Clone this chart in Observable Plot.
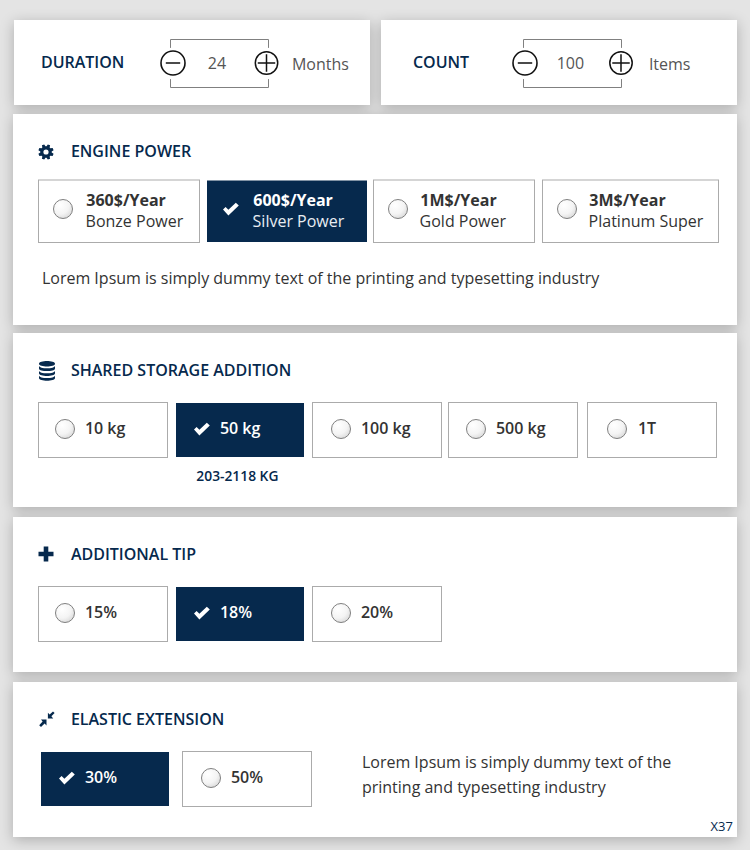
<!DOCTYPE html>
<html>
<head>
<meta charset="utf-8">
<script src="https://cdn.jsdelivr.net/npm/d3@7"></script>
<script src="https://cdn.jsdelivr.net/npm/@observablehq/plot@0.6"></script>
<style>html,body{margin:0;padding:0;background:#e4e4e4;}svg{display:block;}</style>
</head>
<body>
<script>
// ---- content ----
const stepperLabels = ["DURATION", "COUNT"];
const stepperValues = ["24", "100"];
const stepperUnits = ["Months", "Items"];
const sectionTitles = ["ENGINE POWER", "SHARED STORAGE ADDITION", "ADDITIONAL TIP", "ELASTIC EXTENSION"];
const enginePrices = ["360$/Year", "600$/Year", "1M$/Year", "3M$/Year"];
const engineNames = ["Bonze Power", "Silver Power", "Gold Power", "Platinum Super"];
const storageOptions = ["10 kg", "50 kg", "100 kg", "500 kg", "1T"];
const tipOptions = ["15%", "18%", "20%"];
const elasticOptions = ["30%", "50%"];
const storageNote = "203-2118 KG";
const engineNote = "Lorem Ipsum is simply dummy text of the printing and typesetting industry";
const elasticNote = ["Lorem Ipsum is simply dummy text of the", "printing and typesetting industry"];
const footerTag = "X37";

// ---- layout ----
const navy = "#06294d", font = "Open Sans";
const cards = [[14,370,20,105],[381,737,20,105],[13,737,114,325],[13,737,333,507],[13,737,517,672],[13,737,682,837]];
const stepLayout = [
  {label:41, minus:173, plus:266.5, value:217, unit:292, b1:170.5, b2:268.5},
  {label:413, minus:525, plus:621, value:570.5, unit:649, b1:523.5, b2:621.5}
];
const titleLayout = [[46,152,151],[47,370,370],[46,554,554],[47,719,719]];
const engineBoxes = [
  {x1:38.5,x2:199.5,radio:63,text:86},
  {x1:207,x2:367,radio:231,text:253},
  {x1:373.5,x2:534.5,radio:398,text:420},
  {x1:542.5,x2:718.5,radio:567,text:589}
];
const wideBoxes = [
  {x1:38.5,x2:167.5,radio:65,text:85},
  {x1:176,x2:304,radio:202,text:220},
  {x1:312.5,x2:441.5,radio:341,text:361},
  {x1:448.5,x2:577.5,radio:476,text:496},
  {x1:587.5,x2:716.5,radio:617,text:638}
];
const elasticBoxes = [
  {x1:41,x2:169,radio:67,text:85},
  {x1:182.5,x2:311.5,radio:211,text:231}
];
const rowOf = (labels, boxes, selected, y1, y2, my, ty) => labels.map((label, i) => {
  const on = i === selected, b = boxes[i];
  return {label, x1:b.x1, x2:b.x2, y1:on?y1+.5:y1, y2:on?y2-.5:y2, my, ty, radio:b.radio, text:b.text, on};
});
const engineRow = rowOf(enginePrices, engineBoxes, 1, 180, 242.5, 209, 200);
const storageRow = rowOf(storageOptions, wideBoxes, 1, 402.5, 457.5, 429, 428);
const tipRow = rowOf(tipOptions, wideBoxes, 1, 586.5, 641.5, 613, 612);
const elasticRow = rowOf(elasticOptions, elasticBoxes, 0, 751.5, 806.5, 778, 777);
const optionRows = [...engineRow, ...storageRow, ...tipRow, ...elasticRow];
const plainRows = [...storageRow, ...tipRow, ...elasticRow];

// ---- glyphs (unit = r/10) ----
const unit = (size) => Math.sqrt(size / Math.PI) / 10;
const poly = (c, u, pts) => { pts.forEach(([x,y],i) => i ? c.lineTo(x*u,y*u) : c.moveTo(x*u,y*u)); c.closePath(); };
const checkGlyph = {draw(c,s){ poly(c, unit(s), [[-8,.6],[-5.4,-2],[-2.6,.7],[4.8,-6.2],[7.8,-3.4],[-2.6,6.4]]); }};
const plusGlyph = {draw(c,s){ const u=unit(s); poly(c,u,[[-2.3,-7.5],[2.3,-7.5],[2.3,-2.3],[7.5,-2.3],[7.5,2.3],[2.3,2.3],[2.3,7.5],[-2.3,7.5],[-2.3,2.3],[-7.5,2.3],[-7.5,-2.3],[-2.3,-2.3]]); }};
const gearGlyph = {draw(c,s){
  const u=unit(s), n=8; const pts=[];
  for(let i=0;i<n;i++){
    const a=i*2*Math.PI/n-Math.PI/8, w=.2;
    pts.push([5.7*Math.cos(a-w*1.5),5.7*Math.sin(a-w*1.5)],[7.8*Math.cos(a-w*.8),7.8*Math.sin(a-w*.8)],[7.8*Math.cos(a+w*.8),7.8*Math.sin(a+w*.8)],[5.7*Math.cos(a+w*1.5),5.7*Math.sin(a+w*1.5)]);
  }
  poly(c,u,pts);
  c.moveTo(2.6*u,0); c.arc(0,0,2.6*u,0,2*Math.PI,true); c.closePath();
}};
const dbGlyph = {draw(c,s){
  const u=unit(s), rx=8, k=3.4;
  c.moveTo(-rx*u,-6.2*u); c.bezierCurveTo(-rx*u,-9.8*u,rx*u,-9.8*u,rx*u,-6.2*u); c.bezierCurveTo(rx*u,-2.6*u,-rx*u,-2.6*u,-rx*u,-6.2*u); c.closePath();
  [-4.2,.7,5.5].forEach(y => {
    c.moveTo(-rx*u,y*u); c.bezierCurveTo(-rx*u,(y+k)*u,rx*u,(y+k)*u,rx*u,y*u);
    c.lineTo(rx*u,(y+2.6)*u); c.bezierCurveTo(rx*u,(y+k+2.8)*u,-rx*u,(y+k+2.8)*u,-rx*u,(y+2.6)*u); c.closePath();
  });
}};
const compressGlyph = {draw(c,s){
  const u=unit(s);
  poly(c,u,[[-.5,.6],[-.5,6.4],[-2.4,4.6],[-6,8],[-7.8,6.2],[-4.4,2.6],[-6,.6]]);
  poly(c,u,[[.9,-.6],[.9,-6.2],[2.6,-4.6],[6,-7.6],[7.6,-6],[4.4,-2.8],[6.2,-.6]]);
}};
const minusCircle = {draw(c,s){ const r=unit(s)*10, h=r*.6; c.moveTo(r,0); c.arc(0,0,r,0,2*Math.PI); c.moveTo(-h,0); c.lineTo(h,0); }};
const plusCircle = {draw(c,s){ const r=unit(s)*10, h=r*.78; c.moveTo(r,0); c.arc(0,0,r,0,2*Math.PI); c.moveTo(-h,0); c.lineTo(h,0); c.moveTo(0,-h); c.lineTo(0,h); }};
const titleGlyphs = [gearGlyph, dbGlyph, plusGlyph, compressGlyph];

const defs = () => {
  const d = d3.create("svg:defs");
  const g = d.append("radialGradient").attr("id","radioFill").attr("cx","35%").attr("cy","30%").attr("r","85%");
  g.append("stop").attr("offset","0%").attr("stop-color","#ffffff");
  g.append("stop").attr("offset","55%").attr("stop-color","#f4f4f4");
  g.append("stop").attr("offset","100%").attr("stop-color","#d2d2d2");
  return d.node();
};
const txt = (data, o) => Plot.text(data, {textAnchor:"start", lineAnchor:"middle", fontVariant:"normal", fontSize:16, fontWeight:400, fill:"#333", dx:-.6, ...o});
const bracket = (s) => [
  [[s.b1-.5,47],[s.b1-.5,39],[s.b2-.5,39],[s.b2-.5,47]],
  [[s.b1-.5,79],[s.b1-.5,87],[s.b2-.5,87],[s.b2-.5,79]]
];
const bracketPts = stepLayout.flatMap((s,i) => bracket(s).flatMap((seg,j) => seg.map(([x,y]) => ({x,y,k:`${i}-${j}`}))));
const idx = (arr) => arr.map((v,i) => i);
const nudge = {dx:-.5, dy:-.5};

const chart = Plot.plot({
  width:750, height:850, margin:0,
  x:{domain:[0,750], range:[0,750], axis:null},
  y:{domain:[0,850], range:[0,850], axis:null},
  style:{background:"#e4e4e4", fontFamily:`"${font}", sans-serif`},
  marks:[
    defs,
    Plot.rect(cards, {x1:d=>d[0], x2:d=>d[1], y1:d=>d[2], y2:d=>d[3], fill:"white", inset:0, imageFilter:"drop-shadow(0 3px 7px rgba(0,0,0,.24))"}),
    // steppers
    Plot.line(bracketPts, {x:"x", y:"y", z:"k", stroke:"#808080", strokeWidth:1, curve:"linear"}),
    Plot.dot(stepLayout, {x:"minus", y:()=>63, r:12, symbol:()=>minusCircle, fill:"none", stroke:"#111", strokeWidth:1.6, ...nudge}),
    Plot.dot(stepLayout, {x:"plus", y:()=>63, r:11.2, symbol:()=>plusCircle, fill:"none", stroke:"#111", strokeWidth:1.5, ...nudge}),
    txt(idx(stepperLabels), {x:i=>stepLayout[i].label, y:()=>62, text:i=>stepperLabels[i], fontWeight:600, fill:navy}),
    txt(idx(stepperValues), {x:i=>stepLayout[i].value, y:()=>63, text:i=>stepperValues[i], textAnchor:"middle", fontWeight:400, fill:"#555"}),
    txt(idx(stepperUnits), {x:i=>stepLayout[i].unit, y:()=>64, text:i=>stepperUnits[i], fontWeight:400, fill:"#555"}),
    // section headings
    Plot.dot(idx(sectionTitles), {x:i=>titleLayout[i][0], y:i=>titleLayout[i][1], r:10, symbol:i=>titleGlyphs[i], fill:navy, stroke:"none", ...nudge}),
    txt(idx(sectionTitles), {x:()=>71, y:i=>titleLayout[i][2], text:i=>sectionTitles[i], fontWeight:600, fill:navy}),
    // option boxes
    Plot.rect(optionRows.filter(d=>!d.on), {x1:"x1", x2:"x2", y1:"y1", y2:"y2", fill:"white", stroke:"#ababab", strokeWidth:1, inset:0}),
    Plot.rect(optionRows.filter(d=>d.on), {x1:"x1", x2:"x2", y1:"y1", y2:"y2", fill:navy, inset:0}),
    Plot.dot(optionRows.filter(d=>!d.on), {x:"radio", y:"my", r:9.5, fill:"url(#radioFill)", stroke:"#808080", strokeWidth:1, ...nudge}),
    Plot.dot(optionRows.filter(d=>d.on), {x:"radio", y:"my", r:10, symbol:()=>checkGlyph, fill:"white", stroke:"none", ...nudge}),
    // engine text
    txt(engineRow, {x:"text", y:()=>200, text:"label", fontWeight:700, dx:-.2, fill:d=>d.on?"white":"#333"}),
    txt(engineRow.map((d,i)=>({...d,label:engineNames[i]})), {x:"text", y:()=>221, text:"label", fontWeight:400, dx:-.9, fill:d=>d.on?"#e8edf2":"#333"}),
    // single-line options
    txt(plainRows.filter(d=>!d.on), {x:"text", y:"ty", text:"label", fontWeight:600, fill:"#333"}),
    txt(plainRows.filter(d=>d.on), {x:"text", y:"ty", text:"label", fontWeight:600, fill:"white"}),
    // notes
    txt([engineNote], {x:()=>42, y:()=>278, text:d=>d, fontWeight:400, fill:"#333"}),
    txt([storageNote], {x:()=>237.5, y:()=>476, text:d=>d, fontSize:13.8, fontWeight:600, fill:navy, textAnchor:"middle"}),
    txt(idx(elasticNote), {x:()=>362, y:i=>762+i*25, text:i=>elasticNote[i], fontWeight:400, fill:"#333"}),
    txt([footerTag], {x:()=>733, y:()=>826, text:d=>d, fontSize:13, fill:navy, textAnchor:"end"})
  ]
});
document.body.appendChild(chart);
</script>
</body>
</html>
